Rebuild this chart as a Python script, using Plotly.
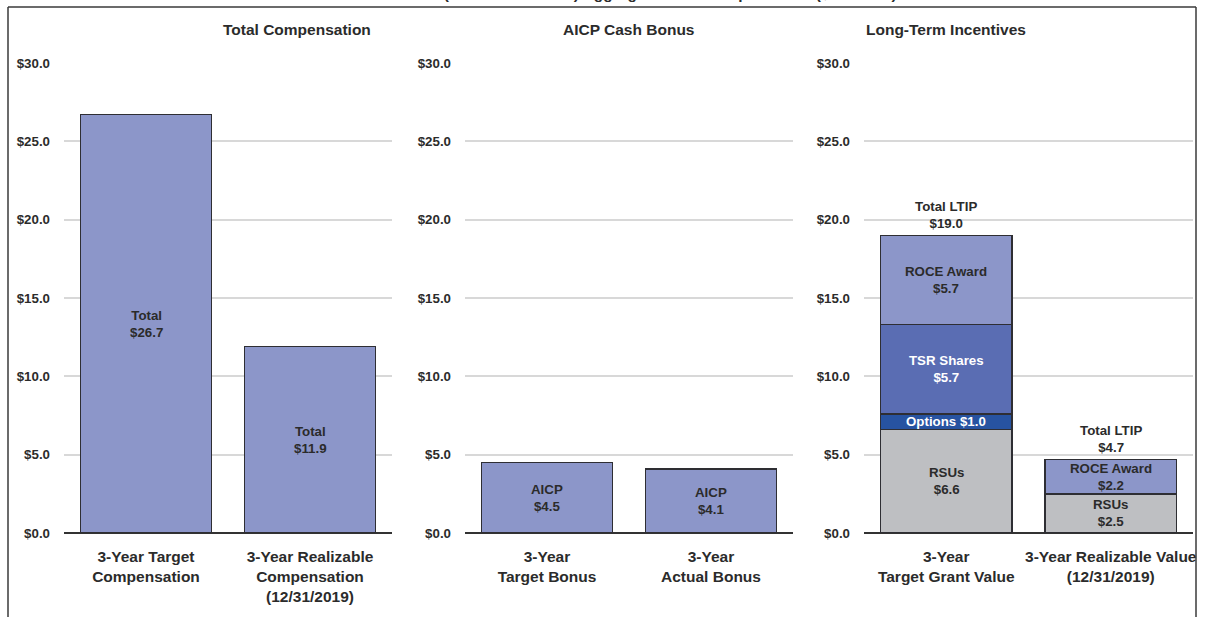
import plotly.graph_objects as go

W, H = 1205, 617

# ---------------- data ----------------
title_text = "Chief Executive (Chairman &amp; CEO) Aggregate Total Compensation ($ Millions)"
panel_titles = ["Total Compensation", "AICP Cash Bonus", "Long-Term Incentives"]

comp_categories = ["3-Year Target<br>Compensation", "3-Year Realizable<br>Compensation<br>(12/31/2019)"]
comp_values = [26.7, 11.9]
comp_labels = ["Total", "Total"]

bonus_categories = ["3-Year<br>Target Bonus", "3-Year<br>Actual Bonus"]
bonus_values = [4.5, 4.1]
bonus_labels = ["AICP", "AICP"]

ltip_categories = ["3-Year<br>Target Grant Value", "3-Year Realizable Value<br>(12/31/2019)"]
ltip_rsus = [6.6, 2.5]
ltip_options = [1.0, None]
ltip_tsr = [5.7, None]
ltip_roce = [5.7, 2.2]
ltip_totals = [19.0, 4.7]

y_ticks = [0, 5, 10, 15, 20, 25, 30]
y_tick_text = ["$0.0", "$5.0", "$10.0", "$15.0", "$20.0", "$25.0", "$30.0"]

# ---------------- style ----------------
FONT = "Liberation Sans, Arial, Helvetica, sans-serif"
C_BAR = "#8C96C9"
C_TSR = "#5A6DB3"
C_OPT = "#2753A1"
C_RSU = "#BEBFC2"
C_EDGE = "#2E2E33"
C_TXT = "#2B2B2B"
GRID = "#D8D8D8"


def px_x(p):
    return p / W


def px_y(p):
    return 1 - p / H


fig = go.Figure()
line = dict(color=C_EDGE, width=1.5)

fig.add_trace(go.Bar(x=comp_categories, y=comp_values, marker=dict(color=C_BAR, line=line),
                     xaxis="x", yaxis="y", showlegend=False, hoverinfo="skip"))
fig.add_trace(go.Bar(x=bonus_categories, y=bonus_values, marker=dict(color=C_BAR, line=line),
                     xaxis="x2", yaxis="y2", showlegend=False, hoverinfo="skip"))
for vals, col in [(ltip_rsus, C_RSU), (ltip_options, C_OPT), (ltip_tsr, C_TSR), (ltip_roce, C_BAR)]:
    fig.add_trace(go.Bar(x=ltip_categories, y=vals, marker=dict(color=col, line=line),
                         xaxis="x3", yaxis="y3", showlegend=False, hoverinfo="skip"))

annotations = []


def seg_label(xref, yref, cat, y, text, color=C_TXT):
    annotations.append(dict(x=cat, y=y, xref=xref, yref=yref, text=text, showarrow=False,
                            font=dict(family=FONT, size=13.3, color=color, weight="bold"),
                            align="center"))


for c, v, l in zip(comp_categories, comp_values, comp_labels):
    seg_label("x", "y", c, v / 2, f"{l}<br>${v:.1f}")
for c, v, l in zip(bonus_categories, bonus_values, bonus_labels):
    seg_label("x2", "y2", c, v / 2, f"{l}<br>${v:.1f}")

for i, c in enumerate(ltip_categories):
    base = 0.0
    for vals, name, col, one_line in [(ltip_rsus, "RSUs", C_TXT, False),
                                      (ltip_options, "Options", "white", True),
                                      (ltip_tsr, "TSR Shares", "white", False),
                                      (ltip_roce, "ROCE Award", C_TXT, False)]:
        v = vals[i]
        if v is None:
            continue
        sep = " " if one_line else "<br>"
        seg_label("x3", "y3", c, base + v / 2, f"{name}{sep}${v:.1f}", col)
        base += v
    annotations.append(dict(x=c, y=ltip_totals[i], xref="x3", yref="y3",
                            text=f"Total LTIP<br>${ltip_totals[i]:.1f}", showarrow=False,
                            yanchor="bottom", yshift=2,
                            font=dict(family=FONT, size=13.3, color=C_TXT, weight="bold")))

# panel titles
for t, cx in zip(panel_titles, [221, 629, 1028]):
    annotations.append(dict(x=px_x(cx), y=px_y(30), xref="paper", yref="paper", text=t,
                            showarrow=False, yanchor="middle",
                            font=dict(family=FONT, size=15.5, color=C_TXT, weight="bold")))

# cut-off main title at the very top
annotations.append(dict(x=px_x(610), y=px_y(4), xref="paper", yref="paper", text=title_text,
                        showarrow=False, yanchor="bottom",
                        font=dict(family=FONT, size=15.5, color=C_TXT, weight="bold")))

y_dom = [px_y(533), px_y(63)]
x_doms = [[px_x(64), px_x(392)], [px_x(465), px_x(793)], [px_x(864), px_x(1193)]]

layout_axes = {}
for i, dom in enumerate(x_doms):
    sfx = "" if i == 0 else str(i + 1)
    layout_axes["xaxis" + sfx] = dict(domain=dom, anchor="y" + sfx, showgrid=False, zeroline=False,
                                      showline=False, ticks="", automargin=False,
                                      ticklabelstandoff=12,
                                      tickfont=dict(family=FONT, size=15.5, color=C_TXT, weight="bold"),
                                      fixedrange=True)
    layout_axes["yaxis" + sfx] = dict(domain=y_dom, anchor="x" + sfx, range=[0, 30],
                                      tickmode="array", tickvals=y_ticks, ticktext=y_tick_text,
                                      showgrid=True, gridcolor=GRID, gridwidth=1.5,
                                      zeroline=True, zerolinecolor="#333333", zerolinewidth=1.5,
                                      showline=False, ticks="", ticklabelstandoff=13, automargin=False,
                                      tickfont=dict(family=FONT, size=13.3, color=C_TXT, weight="bold"),
                                      fixedrange=True)

shapes = [
    dict(type="line", xref="paper", yref="paper", x0=px_x(8), x1=px_x(1196), y0=px_y(7), y1=px_y(7),
         line=dict(color="#3A3A3A", width=1.5)),
    dict(type="line", xref="paper", yref="paper", x0=px_x(8), x1=px_x(8), y0=px_y(7), y1=0,
         line=dict(color="#3A3A3A", width=1.5)),
    dict(type="line", xref="paper", yref="paper", x0=px_x(1196), x1=px_x(1196), y0=px_y(7), y1=0,
         line=dict(color="#3A3A3A", width=1.5)),
]

fig.update_layout(
    width=W, height=H, autosize=False,
    margin=dict(l=0, r=0, t=0, b=0, pad=0),
    paper_bgcolor="white", plot_bgcolor="white",
    barmode="stack", bargap=0.2,
    font=dict(family=FONT, color=C_TXT),
    annotations=annotations, shapes=shapes,
    **layout_axes,
)

fig.write_html("out.html", config={"displayModeBar": False})
